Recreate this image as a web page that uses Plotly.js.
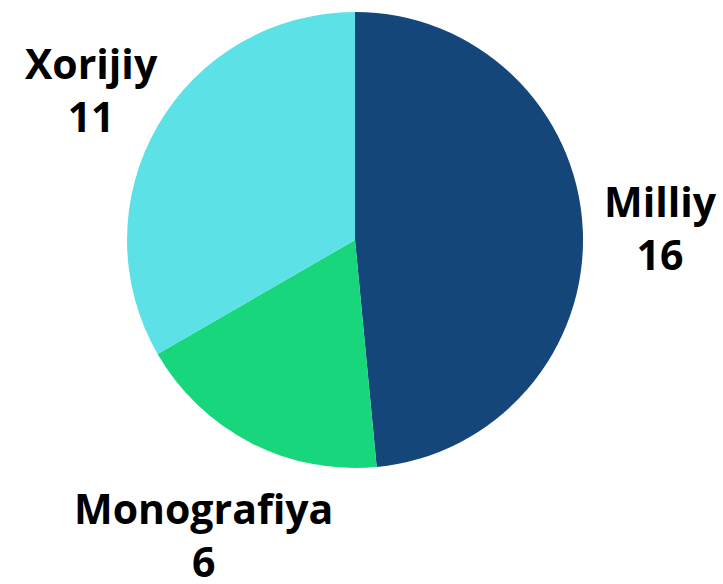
<!DOCTYPE html>
<html>
<head>
<meta charset="utf-8">
<script src="https://cdn.plot.ly/plotly-3.0.1.min.js"></script>
<style>
  html, body { margin: 0; padding: 0; background: #fff; }
  #chart { width: 723px; height: 584px; }
</style>
</head>
<body>
<div id="chart"></div>
<script>
var labels = ['Milliy', 'Monografiya', 'Xorijiy'];
var values = [16, 6, 11];
var colors = ['#154679', '#17d67b', '#5ce1e6'];

// where each label block sits (paper coords)
var labelX = [0.913, 0.282, 0.127];
var labelY = [0.61, 0.084, 0.846];

var trace = {
    type: 'pie',
    labels: labels,
    values: values,
    sort: false,
    direction: 'clockwise',
    rotation: 0,
    marker: { colors: colors, line: { width: 0 } },
    textinfo: 'none',
    domain: { x: [0.1757, 0.8064], y: [0.1986, 0.9795] },
    automargin: false,
    hoverinfo: 'none'
};

var annotations = labels.map(function (lab, i) {
    return {
        text: lab + '<br>' + values[i],
        x: labelX[i],
        y: labelY[i],
        xref: 'paper',
        yref: 'paper',
        xanchor: 'center',
        yanchor: 'middle',
        showarrow: false,
        font: { family: 'Open Sans', size: 41, color: '#000', weight: 'bold' }
    };
});

var layout = {
    width: 723,
    height: 584,
    margin: { l: 0, r: 0, t: 0, b: 0 },
    showlegend: false,
    paper_bgcolor: '#fff',
    annotations: annotations
};

Plotly.newPlot('chart', [trace], layout, { displayModeBar: false, staticPlot: true });
</script>
</body>
</html>
